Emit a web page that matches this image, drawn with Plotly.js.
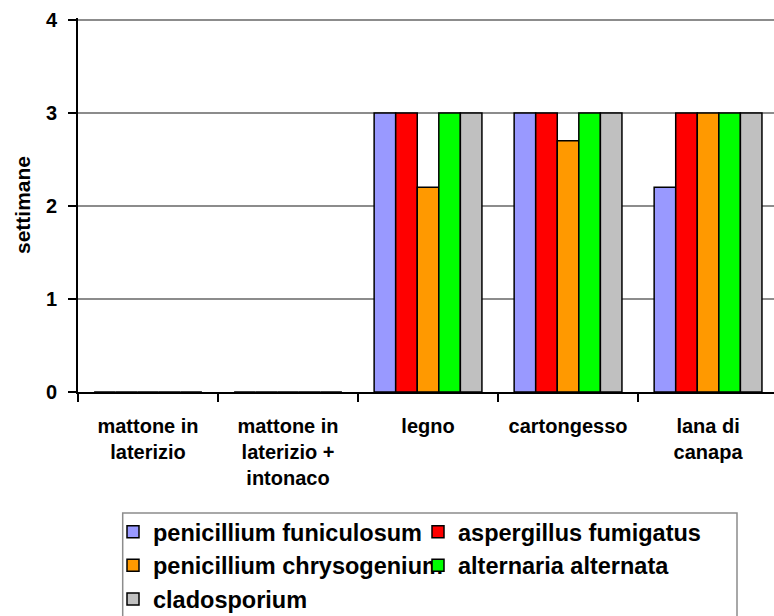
<!DOCTYPE html>
<html>
<head>
<meta charset="utf-8">
<script src="https://cdn.plot.ly/plotly-3.0.1.min.js"></script>
<style>html,body{margin:0;padding:0;background:#fff;overflow:hidden}</style>
</head>
<body>
<div id="chart" style="width:774px;height:616px"></div>
<script>
var categories = ['mattone in<br>laterizio', 'mattone in<br>laterizio +<br>intonaco', 'legno', 'cartongesso', 'lana di<br>canapa'];
var seriesNames = ['penicillium funiculosum', 'aspergillus fumigatus', 'penicillium chrysogenium', 'alternaria alternata', 'cladosporium'];
var funiculosum = [0, 0, 3, 3, 2.2];
var fumigatus = [0, 0, 3, 3, 3];
var chrysogenium = [0, 0, 2.2, 2.7, 3];
var alternata = [0, 0, 3, 3, 3];
var cladosporium = [0, 0, 3, 3, 3];
var yTicks = [0, 1, 2, 3, 4];

var values = [funiculosum, fumigatus, chrysogenium, alternata, cladosporium];
var colors = ['#9999FF', '#FF0000', '#FF9900', '#00FF00', '#C0C0C0'];
var groups = ['c1', 'c2', 'c1', 'c2', 'c1'];

var FONT = 'Liberation Sans, Arial, sans-serif';
var data = values.map(function (v, i) {
  return {
    type: 'bar',
    name: seriesNames[i],
    x: categories,
    y: v,
    legendgroup: groups[i],
    marker: { color: colors[i], line: { color: '#000000', width: 1.5 } },
    hoverinfo: 'name+y'
  };
});

var L = 78, T = 18, W = 696, H = 374;
function px2x(p) { return (p - L) / W; }
function px2y(p) { return (T + H - p) / H; }

var layout = {
  width: 774,
  height: 616,
  margin: { l: L, r: 0, t: T, b: 616 - T - H, autoexpand: false },
  paper_bgcolor: '#ffffff',
  plot_bgcolor: '#ffffff',
  font: { family: FONT, color: '#000000' },
  barmode: 'group',
  bargap: 0.23,
  bargroupgap: 0,
  showlegend: true,
  xaxis: {
    type: 'category',
    range: [-0.5, 4.471],
    showline: true,
    linecolor: '#000000',
    linewidth: 2,
    ticks: 'outside',
    tickson: 'boundaries',
    ticklen: 8,
    tickwidth: 2,
    tickcolor: '#000000',
    showgrid: false,
    zeroline: false,
    tickfont: { family: FONT, size: 20, weight: 'bold', color: '#000000' },
    ticklabelstandoff: 15,
    fixedrange: true
  },
  yaxis: {
    range: [0, 4.02],
    tickvals: yTicks,
    ticktext: yTicks.map(String),
    showline: true,
    linecolor: '#000000',
    linewidth: 2,
    ticks: 'outside',
    ticklen: 8,
    tickwidth: 2,
    tickcolor: '#000000',
    showgrid: true,
    gridcolor: '#8c8c8c',
    gridwidth: 2,
    zeroline: false,
    tickfont: { family: FONT, size: 20, weight: 'bold', color: '#000000' },
    ticklabelstandoff: 7,
    title: { text: 'settimane', font: { family: FONT, size: 21, weight: 'bold', color: '#000000' }, standoff: 10 },
    fixedrange: true
  },
  legend: {
    orientation: 'h',
    traceorder: 'grouped',
    x: px2x(113),
    xanchor: 'left',
    y: px2y(510),
    yanchor: 'top',
    bgcolor: 'rgba(0,0,0,0)',
    borderwidth: 0,
    entrywidth: 260,
    entrywidthmode: 'pixels',
    tracegroupgap: 0,
    font: { family: FONT, size: 23.5, weight: 'bold', color: '#000000' }
  },
  shapes: [{
    type: 'rect',
    xref: 'paper', yref: 'paper',
    x0: px2x(122.7), x1: px2x(737),
    y0: px2y(660), y1: px2y(513),
    line: { color: '#8c8c8c', width: 1.5 },
    fillcolor: 'rgba(0,0,0,0)',
    layer: 'below'
  }]
};

Plotly.newPlot('chart', data, layout, { displayModeBar: false, staticPlot: true });
</script>
</body>
</html>
